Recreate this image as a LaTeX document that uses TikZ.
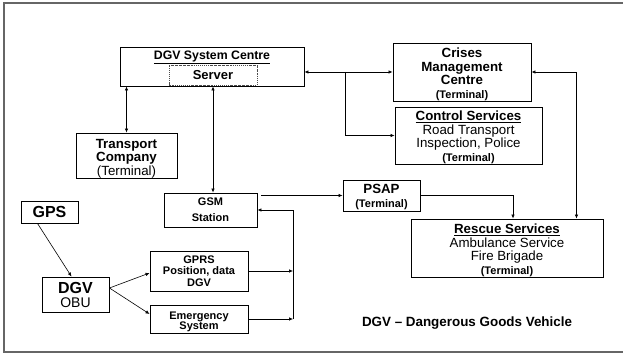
\documentclass[tikz,border=0pt]{standalone}
\usepackage{fontspec}
\setmainfont{Liberation Sans}
\usepackage{tikz}
\usetikzlibrary{shapes, arrows, positioning, arrows.meta}

\newcommand{\terminalbf}{{\fontsize{11}{12}\selectfont\bfseries (Terminal)}}
\newcommand{\alto}[1]{\rule{0pt}{#1}}

\tikzset{
  caja/.style={draw, line width=0.9pt, align=center, inner xsep=1pt, inner ysep=0pt,
    font=\fontsize{13.3}{13.5}\selectfont},
  chica/.style={caja, font=\fontsize{11}{12}\selectfont\bfseries},
  flecha/.style={-{Latex[length=4pt,width=3.5pt]}, line width=0.6pt},
  dflecha/.style={{Latex[length=4pt,width=3.5pt]}-{Latex[length=4pt,width=3.5pt]}, line width=0.6pt},
}

\begin{document}
\begin{tikzpicture}[x=1pt, y=-1pt]
    \useasboundingbox (0,0) rectangle (623,355);
    % Marco exterior
    \draw[gray!80!black, line width=1.3pt] (623,3) -- (4,3) -- (4,352) -- (623,352);

    % Centro del sistema con el servidor
    \node[caja, minimum width=184pt, minimum height=39pt] (centre) at (212,66.5) {};
    \node[font=\fontsize{12.3}{13}\selectfont\bfseries, inner sep=0pt] (titulo) at (212,57) {\underline{DGV System Centre}};
    \node[draw=gray!60!black, dash pattern=on 1.5pt off 1pt on 0.4pt off 1pt, line width=0.6pt,
      minimum width=88pt, minimum height=20pt, font=\fontsize{13}{14}\selectfont\bfseries] (server) at (213,75) {Server};

    % Cajas de la derecha
    \node[caja, minimum width=138pt, minimum height=58pt] (crises) at (462,72)
      {\alto{14.5pt}\textbf{Crises}\\ \textbf{Management}\\ \textbf{Centre}\\ \terminalbf};
    \node[caja, minimum width=147pt, minimum height=57pt] (control) at (468.5,135.5)
      {\alto{13.7pt}\textbf{\underline{Control Services}}\\ Road Transport\\ Inspection, Police\\ \terminalbf};
    \node[caja, minimum width=192pt, minimum height=58pt] (rescue) at (507,248)
      {\alto{14.5pt}\textbf{\underline{Rescue Services}}\\ Ambulance Service\\ Fire Brigade\\ \terminalbf};
    \node[caja, minimum width=77pt, minimum height=31pt] (psap) at (381.5,195.5)
      {\alto{12pt}\textbf{PSAP}\\ \terminalbf};

    % Cajas de la izquierda
    \node[caja, minimum width=101pt, minimum height=45pt] (trans) at (126.5,155.5)
      {\alto{15pt}\textbf{Transport}\\ \textbf{Company}\\ (Terminal)};
    \node[chica, minimum width=93pt, minimum height=34pt, font=\fontsize{11}{16}\selectfont\bfseries] (gsm) at (210.5,210)
      {GSM\\ Station};
    \node[caja, minimum width=57pt, minimum height=22pt, font=\fontsize{16}{17}\selectfont\bfseries] (gps) at (49.5,212) {GPS};
    \node[caja, minimum width=67pt, minimum height=35pt, font=\fontsize{16}{14}\selectfont] (dgv) at (75.5,294.5)
      {\textbf{DGV}\\ {\fontsize{14}{14}\selectfont OBU}};
    \node[chica, minimum width=98pt, minimum height=40pt, font=\fontsize{11}{11.5}\selectfont\bfseries] (gprs) at (199,271)
      {GPRS\\ Position, data\\ DGV};
    \node[chica, minimum width=98pt, minimum height=28pt, font=\fontsize{11}{10.5}\selectfont\bfseries] (emerg) at (199,319)
      {\alto{13pt}Emergency\\ System};

    % Nota
    \node[font=\fontsize{13.4}{14}\selectfont\bfseries] (nota) at (467,323) {DGV -- Dangerous Goods Vehicle};

    % Conexiones
    \coordinate (split) at (345,72);
    \coordinate (bus) at (293,315);
    \draw[dflecha] (trans.north) -- (trans.north |- centre.south);
    \draw[dflecha] (server |- centre.south) -- (server |- gsm.north);
    \draw[dflecha] (crises.west) -- (crises.west -| centre.east);
    \draw[flecha] (split) |- (control.west);
    \draw[dflecha] (crises.east) -| ([xshift=-27pt]rescue.north east);
    \draw[flecha] ([xshift=4pt]gsm.east |- psap.west) -- (psap.west);
    \draw[flecha] (psap.east) -| ([xshift=6pt]rescue.north);
    \foreach \caja in {gprs, emerg} {
        \draw[flecha] (\caja.east) -- (\caja.east -| bus);
    }
    \draw[flecha] (bus |- emerg.east) -- (bus |- gsm.east) -- (gsm.east);
    \draw[flecha] ([xshift=-12pt]gps.south) -- ([xshift=-4pt]dgv.north);
    \coordinate (fork) at ([yshift=6.5pt]dgv.east);
    \draw[flecha] (fork) -- ([yshift=-2pt]gprs.west);
    \draw[flecha] (fork) -- ([yshift=5pt]emerg.west);
\end{tikzpicture}
\end{document}
